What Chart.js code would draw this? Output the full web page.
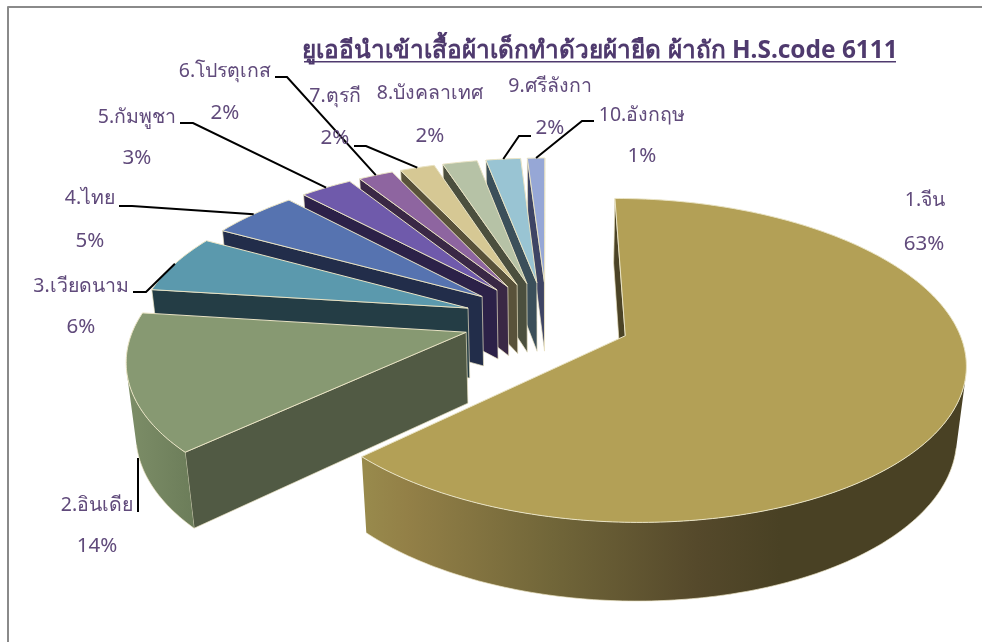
<!DOCTYPE html>
<html>
<head>
<meta charset="utf-8">
<style>
  html, body { margin: 0; padding: 0; background: #fff; }
  canvas { display: block; }
</style>
<script src="https://cdn.jsdelivr.net/npm/chart.js@4"></script>
</head>
<body>
<canvas id="chart" width="982" height="642"></canvas>
<script>
const titleText = 'ยูเออีนำเข้าเสื้อผ้าเด็กทำด้วยผ้ายืด ผ้าถัก H.S.code 6111';
const categories = ['1.จีน', '2.อินเดีย', '3.เวียดนาม', '4.ไทย', '5.กัมพูชา', '6.โปรตุเกส', '7.ตุรกี', '8.บังคลาเทศ', '9.ศรีลังกา', '10.อังกฤษ'];
const shares = [63, 14, 6, 5, 3, 2, 2, 2, 2, 1];
const topColors = ['#b3a056', '#879972', '#5b99ad', '#5673b0', '#6f5aab', '#8e65a0', '#d6c894', '#b6c2a6', '#99c4d3', '#96a7d6'];
const cutColors = ['#4b4326', '#515a44', '#243d45', '#222d4a', '#2c2148', '#3a2845', '#59523a', '#4b4f3e', '#3b4f5a', '#3e4464'];

// label centres: [name x, name y, percent x, percent y]
const labelSpots = [
  [925, 200, 924, 244], [97, 505, 97, 546], [81, 286, 81, 327], [90, 198, 90, 241], [137, 117, 137, 158],
  [225, 71, 225, 113], [335, 96, 335, 138], [430, 93, 430, 136], [550, 86, 550, 128], [642, 115, 642, 156]
];
// leader elbows, the last point is found on the slice rim
const leaderElbows = [
  null,
  [[138, 512], [138, 458]],
  [[133, 292], [146, 292]],
  [[119, 206], [132, 206]],
  [[180, 123], [193, 123]],
  [[275, 77], [287, 77]],
  [[354, 146], [366, 146]],
  null,
  [[531, 136], [519, 136]],
  [[594, 121], [582, 121]]
];

// tilted view of the pie plane
const VIEW_X = 547, VIEW_Y = 320;
const RADIUS = 330, TILT = 0.465, DEPTH = 72, NEAR = 0.15, FALL = 0.0225;
const EXPLODE = 84;
const EDGE = '#e9e3c4';

function project(x, z, h) {
  const s = 1 / (1 - NEAR * z / RADIUS + FALL * h);
  return [VIEW_X + x * s, VIEW_Y + (TILT * z + DEPTH * h) * s];
}

function rimPoints(arc) {
  const { startAngle, endAngle } = arc.getProps(['startAngle', 'endAngle'], true);
  const mid = (startAngle + endAngle) / 2;
  const ox = EXPLODE * Math.cos(mid), oz = EXPLODE * Math.sin(mid);
  const steps = Math.max(4, Math.ceil((endAngle - startAngle) / 0.015));
  const rim = [];
  for (let i = 0; i <= steps; i++) {
    const a = startAngle + (endAngle - startAngle) * i / steps;
    rim.push([ox + RADIUS * Math.cos(a), oz + RADIUS * Math.sin(a)]);
  }
  return { ox, oz, rim, mid };
}

function cross(a, b, c) {
  return (b[0] - a[0]) * (c[1] - b[1]) - (b[1] - a[1]) * (c[0] - b[0]);
}

function poly(ctx, pts) {
  ctx.beginPath();
  pts.forEach((p, i) => i ? ctx.lineTo(p[0], p[1]) : ctx.moveTo(p[0], p[1]));
  ctx.closePath();
}

function rimFill(ctx, index) {
  if (index === 0) {
    const g = ctx.createLinearGradient(365, 0, 780, 0);
    g.addColorStop(0, '#988a4c');
    g.addColorStop(0.1, '#938047');
    g.addColorStop(0.45, '#716639');
    g.addColorStop(0.8, '#55492b');
    g.addColorStop(1, '#494124');
    return g;
  }
  if (index === 1) {
    const g = ctx.createLinearGradient(125, 0, 200, 0);
    g.addColorStop(0, '#7d8e68');
    g.addColorStop(1, '#6a7b58');
    return g;
  }
  return cutColors[index];
}

function drawSlice(ctx, arc, index) {
  const { ox, oz, rim } = rimPoints(arc);
  const tipTop = project(ox, oz, 0), tipLow = project(ox, oz, 1);
  const first = rim[0], last = rim[rim.length - 1];

  // cut faces, whichever turn towards the viewer
  const startFace = [tipTop, project(first[0], first[1], 0), project(first[0], first[1], 1), tipLow];
  const endFace = [tipTop, project(last[0], last[1], 0), project(last[0], last[1], 1), tipLow];
  [[startFace, -1], [endFace, 1]].forEach(([face, sign]) => {
    if (cross(face[0], face[1], face[2]) * sign <= 0) return;
    ctx.fillStyle = cutColors[index];
    poly(ctx, face);
    ctx.fill();
    ctx.strokeStyle = EDGE;
    ctx.lineWidth = 0.7;
    ctx.stroke();
  });

  // outer wall, one polygon over the part of the rim facing front
  const wallTop = [], wallLow = [];
  for (let i = 0; i < rim.length - 1; i++) {
    const a = rim[i], b = rim[i + 1];
    const t0 = project(a[0], a[1], 0), t1 = project(b[0], b[1], 0), l1 = project(b[0], b[1], 1);
    if (cross(t0, t1, l1) >= 0) continue;
    if (!wallTop.length) {
      wallTop.push(t0);
      wallLow.push(project(a[0], a[1], 1));
    }
    wallTop.push(t1);
    wallLow.push(l1);
  }
  if (wallTop.length) {
    ctx.fillStyle = rimFill(ctx, index);
    poly(ctx, wallTop.concat(wallLow.slice().reverse()));
    ctx.fill();
    ctx.strokeStyle = EDGE;
    ctx.lineWidth = 0.7;
    ctx.beginPath();
    wallLow.forEach((p, i) => i ? ctx.lineTo(p[0], p[1]) : ctx.moveTo(p[0], p[1]));
    ctx.stroke();
  }

  // top face
  const top = [tipTop].concat(rim.map(p => project(p[0], p[1], 0)));
  ctx.fillStyle = topColors[index];
  poly(ctx, top);
  ctx.fill();
  ctx.strokeStyle = EDGE;
  ctx.lineWidth = 1;
  ctx.stroke();
}

const pie3d = {
  id: 'pie3d',
  beforeDatasetsDraw(chart) {
    const ctx = chart.ctx;
    const arcs = chart.getDatasetMeta(0).data;
    ctx.save();
    ctx.lineJoin = 'round';

    ctx.strokeStyle = '#8a8a8a';
    ctx.lineWidth = 2;
    ctx.beginPath();
    ctx.moveTo(8, 642);
    ctx.lineTo(8, 7);
    ctx.lineTo(982, 7);
    ctx.stroke();

    drawSlice(ctx, arcs[0], 0);
    for (let i = arcs.length - 1; i > 0; i--) drawSlice(ctx, arcs[i], i);

    // leaders
    ctx.strokeStyle = '#000';
    ctx.lineWidth = 2;
    ctx.lineJoin = 'miter';
    leaderElbows.forEach((elbow, i) => {
      if (!elbow) return;
      const { ox, oz, mid } = rimPoints(arcs[i]);
      ctx.beginPath();
      ctx.moveTo(elbow[0][0], elbow[0][1]);
      ctx.lineTo(elbow[1][0], elbow[1][1]);
      if (i !== 1) {
        const end = project(ox + RADIUS * Math.cos(mid), oz + RADIUS * Math.sin(mid), 0);
        ctx.lineTo(end[0], end[1]);
      }
      ctx.stroke();
    });

    // labels
    ctx.textAlign = 'center';
    ctx.textBaseline = 'middle';
    ctx.fillStyle = '#604a7b';
    categories.forEach((name, i) => {
      const spot = labelSpots[i];
      ctx.font = '19.5px "Noto Sans", sans-serif';
      ctx.fillText(name, spot[0], spot[1]);
      ctx.font = '20.5px "Noto Sans", sans-serif';
      ctx.fillText(shares[i] + '%', spot[2], spot[3]);
    });

    // underlined title
    ctx.font = 'bold 24.4px "Noto Sans", sans-serif';
    ctx.fillStyle = '#4f3a6e';
    ctx.fillText(titleText, 600, 51);
    ctx.fillRect(304, 61, 592, 1.5);
    ctx.restore();
    return false;
  }
};

new Chart(document.getElementById('chart'), {
  type: 'pie',
  data: {
    labels: categories,
    datasets: [{ data: shares, backgroundColor: topColors, offset: EXPLODE }]
  },
  options: {
    responsive: false,
    animation: false,
    plugins: { legend: { display: false }, tooltip: { enabled: false } }
  },
  plugins: [pie3d]
});
</script>
</body>
</html>
